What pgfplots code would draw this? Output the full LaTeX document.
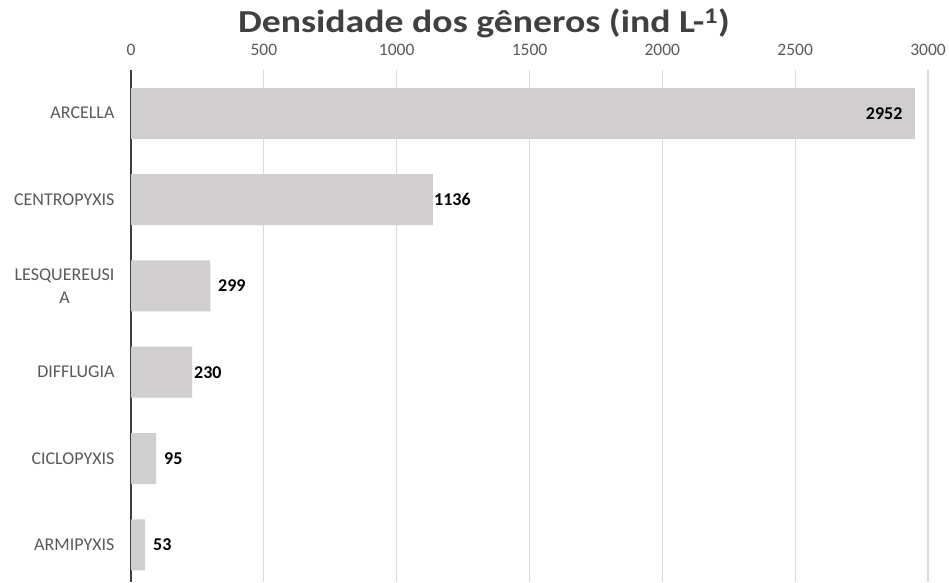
\documentclass[border=0pt]{standalone}
\usepackage{pgfplots}
\pgfplotsset{compat=1.18}
\usepackage{pgfplotstable}
\usepackage{fontspec}
\setmainfont{Carlito}
\definecolor{barfill}{RGB}{208,206,206}
\definecolor{labgray}{RGB}{89,89,89}
\definecolor{gridgray}{RGB}{217,217,217}
\definecolor{axisgray}{RGB}{64,64,64}

% row 0 (ARCELLA) is kept apart: its label sits inside the bar
\pgfplotstableread{
y x dx
0 2952 -12.6
}\topdata
\pgfplotstableread{
y x dx
1 1136 1.2
2 299 7.6
3 230 1.9
4 95 7.8
5 53 7.9
}\restdata

\begin{document}
\begin{tikzpicture}
\useasboundingbox (0,0) rectangle (949pt,582pt);
\node[anchor=base, text=axisgray, xscale=1.18, font=\bfseries\fontsize{32}{32}\selectfont]
  at (484pt,549pt) {Densidade dos gêneros (ind L-\textsuperscript{1})};
\begin{axis}[
  at={(131pt,0pt)}, anchor=south west,
  scale only axis, width=797pt, height=512pt,
  xmin=0, xmax=3000, ymin=-0.5, ymax=5.43,
  y dir=reverse,
  xbar, bar width=51pt, bar shift=0pt,
  axis x line*=top, axis y line*=left,
  x axis line style={draw=none},
  y axis line style={draw=axisgray, line width=2.4pt, -},
  major tick length=0pt,
  xtick={0,500,...,3000},
  ytick={0,...,5},
  yticklabels={ARCELLA,CENTROPYXIS,{LESQUEREUSI\\A},DIFFLUGIA,CICLOPYXIS,ARMIPYXIS},
  xmajorgrids,
  major grid style={draw=gridgray, line width=1.3pt},
  /pgf/number format/assume math mode=true,
  /pgf/number format/1000 sep={},
  xticklabel style={font=\fontsize{17.5}{17.5}\selectfont, text=labgray, yshift=11pt},
  yticklabel style={font=\fontsize{18}{23}\selectfont, text=labgray, align=center, xshift=-13pt},
  visualization depends on={\thisrow{dx} \as \dx},
  clip=false,
]
\addplot[fill=barfill, draw=none,
  nodes near coords,
  every node near coord/.append style={anchor=east, inner sep=0pt, xshift=\dx pt,
    text=black, font=\bfseries\fontsize{18}{18}\selectfont}]
  table[x=x, y=y] {\topdata};
\addplot[fill=barfill, draw=none,
  nodes near coords,
  every node near coord/.append style={anchor=west, inner sep=0pt, xshift=\dx pt,
    text=black, font=\bfseries\fontsize{18}{18}\selectfont}]
  table[x=x, y=y] {\restdata};
\end{axis}
\end{tikzpicture}
\end{document}
